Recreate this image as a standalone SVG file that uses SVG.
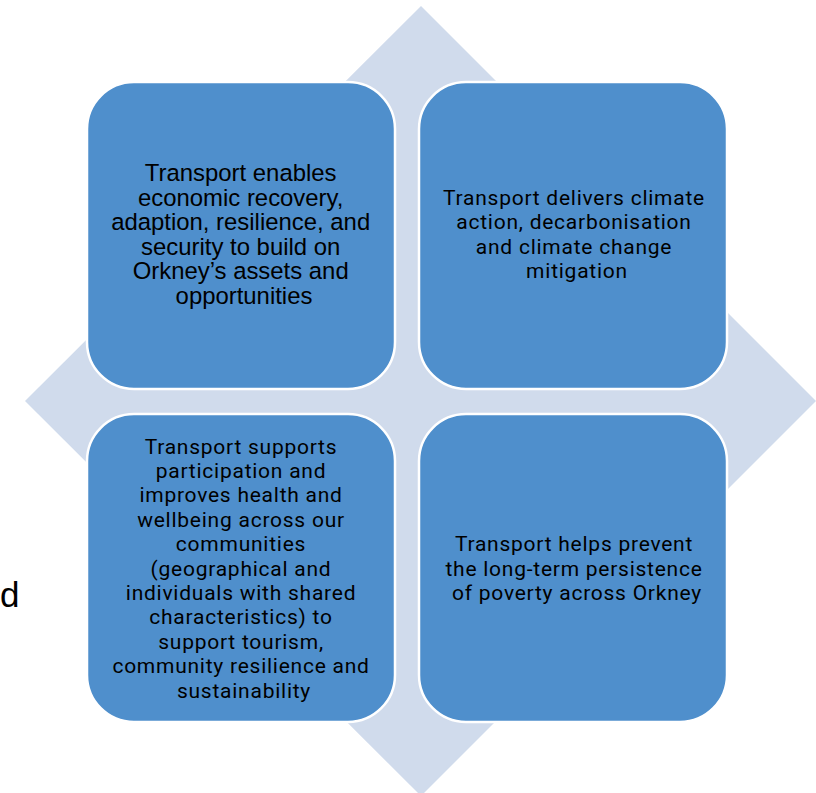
<svg xmlns="http://www.w3.org/2000/svg" width="816" height="793" viewBox="0 0 816 793">
  <style>
    .box { fill: #4F8FCC; stroke: #FFFFFF; stroke-width: 2.5; }
    .arial { font-family: "Liberation Sans", Arial, sans-serif; font-size: 23.9px; fill: #000000; text-anchor: middle; }
    .gothic { font-family: Roboto, "Liberation Sans", sans-serif; font-size: 21px; letter-spacing: 0.75px; fill: #000000; text-anchor: middle; }
  </style>

  <rect width="816" height="793" fill="#FFFFFF"/>

  <!-- background diamond -->
  <polygon id="diamond" points="421,6 816,401 421,796 25,401" fill="#D0DBEC"/>

  <!-- stray letter at the left margin -->
  <text x="0" y="607" font-family="Liberation Sans, Arial, sans-serif" font-size="35px" fill="#000000">d</text>

  <g id="node-economy">
    <rect class="box" x="87" y="82" width="308" height="307" rx="47" ry="47"/>
    <text class="arial">
      <tspan x="244" y="181">Transport enables</tspan>
      <tspan x="244" y="205.6">economic recovery,</tspan>
      <tspan x="244" y="230.2">adaption, resilience, and</tspan>
      <tspan x="244" y="254.8">security to build on</tspan>
      <tspan x="244" y="279.4">Orkney’s assets and</tspan>
      <tspan x="244" y="304">opportunities</tspan>
    </text>
  </g>

  <g id="node-climate">
    <rect class="box" x="419" y="82" width="308" height="307" rx="47" ry="47"/>
    <text class="gothic">
      <tspan x="577" y="205">Transport delivers climate</tspan>
      <tspan x="577" y="229.4">action, decarbonisation</tspan>
      <tspan x="577" y="253.8">and climate change</tspan>
      <tspan x="577" y="278.2">mitigation</tspan>
    </text>
  </g>

  <g id="node-health">
    <rect class="box" x="87" y="414" width="308" height="308" rx="47" ry="47"/>
    <text class="gothic">
      <tspan x="244" y="453.5">Transport supports</tspan>
      <tspan x="244" y="477.9">participation and</tspan>
      <tspan x="244" y="502.3">improves health and</tspan>
      <tspan x="244" y="526.7">wellbeing across our</tspan>
      <tspan x="244" y="551.1">communities</tspan>
      <tspan x="244" y="575.5">(geographical and</tspan>
      <tspan x="244" y="599.9">individuals with shared</tspan>
      <tspan x="244" y="624.3">characteristics) to</tspan>
      <tspan x="244" y="648.7">support tourism,</tspan>
      <tspan x="244" y="673.1">community resilience and</tspan>
      <tspan x="244" y="697.5">sustainability</tspan>
    </text>
  </g>

  <g id="node-poverty">
    <rect class="box" x="419" y="414" width="308" height="308" rx="47" ry="47"/>
    <text class="gothic">
      <tspan x="577" y="551">Transport helps prevent</tspan>
      <tspan x="577" y="575.5">the long-term persistence</tspan>
      <tspan x="577" y="600">of poverty across Orkney</tspan>
    </text>
  </g>

  <g id="connectors"></g>
</svg>
